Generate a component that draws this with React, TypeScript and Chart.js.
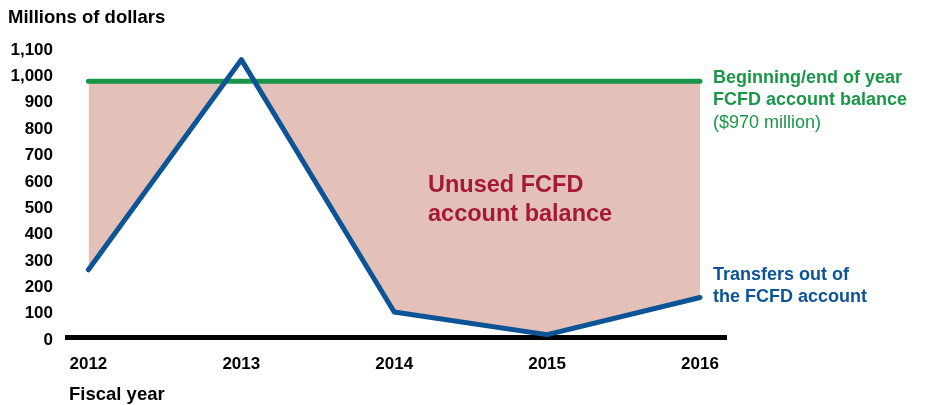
import React, { useEffect, useRef } from "react";
import { Chart, registerables } from "chart.js";

Chart.register(...registerables);

const years = [2012, 2013, 2014, 2015, 2016];
const transfers = [255, 1052, 95, 9, 150];
const balance = [970, 970, 970, 970, 970];
const yMin = 0;
const yMax = 1100;
const yStep = 100;
const xMin = 2011.86;
const xMax = 2016.17;

const FONT = "'Liberation Sans', Arial, sans-serif";
const GREEN = "#1a9648";
const BLUE = "#0c5496";
const PINK = "#e3c1b9";
const CRIMSON = "#a51937";

const textPlugin = {
  id: "texts",
  afterDraw(chart: any) {
    const ctx = chart.ctx;
    const xs = chart.scales.x;
    const ys = chart.scales.y;
    ctx.save();
    ctx.textBaseline = "middle";
    ctx.textAlign = "left";
    // axis titles
    ctx.fillStyle = "#000";
    ctx.font = `bold 18.5px ${FONT}`;
    ctx.fillText("Millions of dollars", 8, 18);
    ctx.fillText("Fiscal year", 69, 395);
    // right annotations
    const rx = xs.getPixelForValue(years[years.length - 1]) + 13;
    const gy = ys.getPixelForValue(balance[balance.length - 1]);
    ctx.fillStyle = GREEN;
    ctx.font = `bold 18px ${FONT}`;
    ctx.fillText("Beginning/end of year", rx, gy - 3);
    ctx.fillText("FCFD account balance", rx, gy + 19);
    ctx.font = `18px ${FONT}`;
    ctx.fillText("($970 million)", rx, gy + 42);
    const by = ys.getPixelForValue(transfers[transfers.length - 1]);
    ctx.fillStyle = BLUE;
    ctx.font = `bold 18px ${FONT}`;
    ctx.fillText("Transfers out of", rx, by - 22);
    ctx.fillText("the FCFD account", rx, by);
    // center label
    ctx.fillStyle = CRIMSON;
    ctx.font = `bold 23.5px ${FONT}`;
    ctx.fillText("Unused FCFD", 428, 186);
    ctx.fillText("account balance", 428, 215);
    ctx.restore();
  },
};

export default function App() {
  const ref = useRef<HTMLCanvasElement | null>(null);
  useEffect(() => {
    if (!ref.current) return;
    const chart = new Chart(ref.current, {
      type: "line",
      data: {
        datasets: [
          {
            label: "Transfers",
            data: years.map((y, i) => ({ x: y, y: transfers[i] })),
            borderColor: BLUE,
            borderWidth: 5,
            borderCapStyle: "round",
            borderJoinStyle: "round",
            pointRadius: 0,
            fill: false,
            tension: 0,
          },
          {
            label: "Balance",
            data: years.map((y, i) => ({ x: y, y: balance[i] })),
            borderColor: GREEN,
            borderWidth: 5,
            borderCapStyle: "round",
            pointRadius: 0,
            fill: { target: 0, above: PINK, below: "rgba(0,0,0,0)" },
            tension: 0,
          },
        ],
      },
      options: {
        animation: false,
        responsive: false,
        devicePixelRatio: 1,
        layout: { padding: { top: 47, right: 200, left: 0, bottom: 0 } },
        plugins: {
          legend: { display: false },
          tooltip: { enabled: false },
          filler: { drawTime: "beforeDatasetsDraw" },
        },
        scales: {
          x: {
            type: "linear",
            min: xMin,
            max: xMax,
            grid: { display: false, drawTicks: false },
            border: { display: true, color: "#000", width: 5 },
            afterBuildTicks: (scale: any) => {
              scale.ticks = years.map((v) => ({ value: v }));
            },
            afterFit: (scale: any) => {
              scale.height = 68;
            },
            ticks: {
              padding: 17,
              color: "#000",
              font: { family: FONT, size: 17, weight: "bold" },
              callback: (v: any) => String(v),
              maxRotation: 0,
              autoSkip: false,
            },
          },
          y: {
            min: yMin,
            max: yMax,
            grid: { display: false, drawTicks: false },
            border: { display: false },
            afterFit: (scale: any) => {
              scale.width = 67;
            },
            ticks: {
              stepSize: yStep,
              padding: 14,
              labelOffset: 3,
              color: "#000",
              font: { family: FONT, size: 17, weight: "bold" },
              callback: (v: any) => Number(v).toLocaleString("en-US"),
            },
          },
        },
      },
      plugins: [textPlugin],
    } as any);
    return () => chart.destroy();
  }, []);
  return (
    <div style={{ position: "absolute", left: 0, top: 0, width: 926, height: 405, background: "#fff" }}>
      <canvas ref={ref} width={926} height={405} />
    </div>
  );
}
